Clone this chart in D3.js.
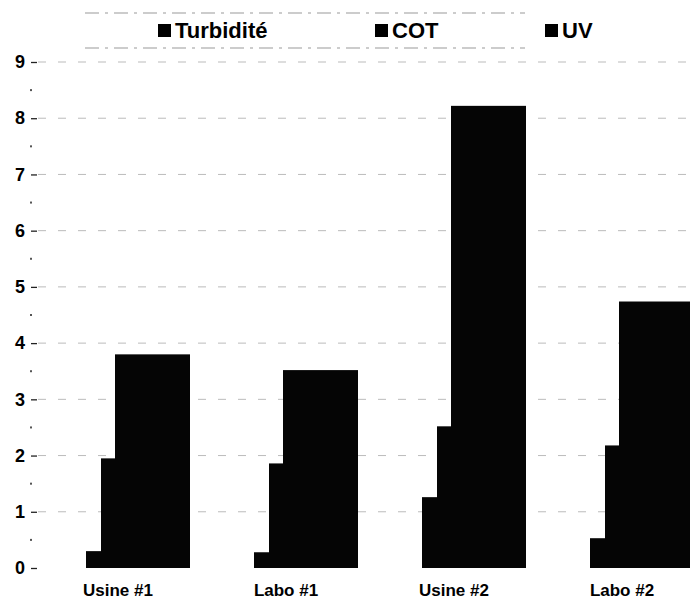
<!DOCTYPE html>
<html><head><meta charset="utf-8">
<script src="https://cdn.jsdelivr.net/npm/d3@7"></script>
<style>body{margin:0;background:#fff}svg{display:block}</style>
</head><body>
<script>
const categories = ["Usine #1", "Labo #1", "Usine #2", "Labo #2"];
const seriesNames = ["Turbidité", "COT", "UV"];
const turbidite = [0.3, 0.28, 1.26, 0.53];
const cot = [1.95, 1.86, 2.52, 2.18];
const uv = [3.8, 3.52, 8.22, 4.74];
const yTicks = [0,1,2,3,4,5,6,7,8,9];
const yTickLabels = ["0","1","2","3","4","5","6","7","8","9"];

const W = 690, H = 601;
const svg = d3.select("body").append("svg").attr("width", W).attr("height", H);

const y = d3.scaleLinear().domain([0, 9]).range([568, 62]);
const x = d3.scaleBand().domain(categories).range([34, 706]);
const sx = d3.scaleOrdinal().domain(seriesNames).range([52, 67, 81]);
const barW = 75;

// gridlines
svg.append("g").selectAll("line").data(yTicks.filter(d => d > 0)).join("line")
  .attr("x1", 38).attr("x2", 690)
  .attr("y1", d => y(d)).attr("y2", d => y(d))
  .attr("stroke", "#bbb").attr("stroke-width", 1).attr("stroke-dasharray", "8,12");

// y axis
const yAxis = d3.axisLeft(y).tickValues(yTicks).tickFormat((d, i) => yTickLabels[i]).tickSize(6).tickPadding(6);
const gy = svg.append("g").attr("transform", "translate(37,0)").call(yAxis);
gy.select(".domain").remove();
gy.selectAll(".tick line").attr("stroke", "#222").attr("stroke-width", 1.3);
gy.selectAll(".tick text").attr("font-family", "Liberation Sans, Arial, sans-serif")
  .attr("font-size", 18).attr("font-weight", "bold").attr("fill", "#000");
// minor dots
svg.append("g").selectAll("rect").data(d3.range(0.5, 9, 1)).join("rect")
  .attr("x", 30).attr("y", d => y(d) - 1).attr("width", 2).attr("height", 2).attr("fill", "#555");

// bars
const series = [
  {name: "Turbidité", values: turbidite},
  {name: "COT", values: cot},
  {name: "UV", values: uv}
];
series.forEach(s => {
  svg.append("g").selectAll("rect").data(categories).join("rect")
    .attr("x", (c) => x(c) + sx(s.name))
    .attr("width", barW)
    .attr("y", (c, i) => y(s.values[i]))
    .attr("height", (c, i) => y(0) - y(s.values[i]))
    .attr("fill", "#050505");
});

// x axis labels
const xAxis = d3.axisBottom(x).tickSize(0).tickPadding(16);
const gx = svg.append("g").attr("transform", `translate(0,${y(0)})`).call(xAxis);
gx.select(".domain").remove();
gx.selectAll(".tick text").attr("font-family", "Liberation Sans, Arial, sans-serif")
  .attr("font-size", 17).attr("font-weight", "bold").attr("fill", "#000");

// legend
const lg = svg.append("g");
lg.append("line").attr("x1", 85).attr("x2", 525).attr("y1", 13).attr("y2", 13)
  .attr("stroke", "#999").attr("stroke-dasharray", "14,6,3,6");
lg.append("line").attr("x1", 85).attr("x2", 525).attr("y1", 48).attr("y2", 48)
  .attr("stroke", "#999").attr("stroke-dasharray", "14,6,3,6");
const legX = d3.scaleOrdinal().domain(seriesNames).range([158, 375, 545]);
const li = lg.selectAll("g.item").data(seriesNames).join("g").attr("class", "item")
  .attr("transform", d => `translate(${legX(d)},24)`);
li.append("rect").attr("width", 13).attr("height", 13).attr("fill", "#000");
li.append("text").attr("x", 17).attr("y", 14).text(d => d)
  .attr("font-family", "Liberation Sans, Arial, sans-serif").attr("font-size", 22)
  .attr("font-weight", "bold").attr("fill", "#000");
</script>
</body></html>
